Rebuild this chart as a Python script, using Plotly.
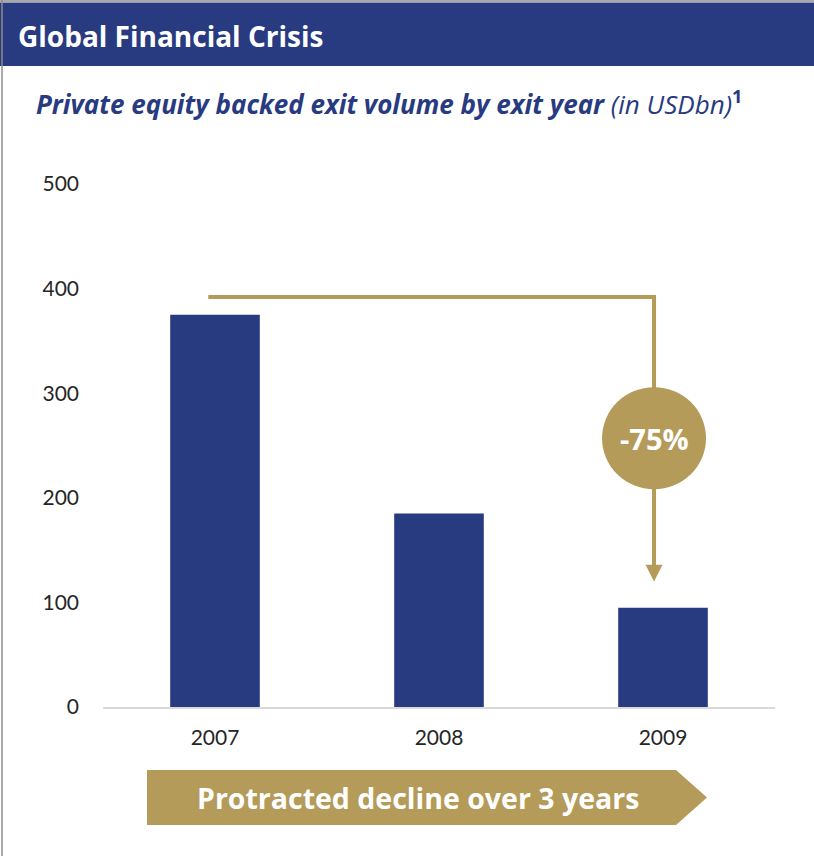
import plotly.graph_objects as go

years = ["2007", "2008", "2009"]
exit_volume = [375, 185, 95]
y_ticks = [0, 100, 200, 300, 400, 500]
title_text = "Global Financial Crisis"
subtitle_main = "Private equity backed exit volume by exit year"
subtitle_unit = "(in USDbn)"
change_label = "-75%"
banner_text = "Protracted decline over 3 years"

NAVY = "#283A80"
GOLD = "#B49B59"
FONT = "Lato"
FONT2 = "Open Sans"

W, H = 814, 856
L, R, T, B = 103, 39, 184, 149
PW, PH = W - L - R, H - T - B


def px(x):
    return (x - L) / PW


def py(y):
    return (H - B - y) / PH


fig = go.Figure()
fig.add_trace(go.Bar(
    x=list(range(len(years))), y=exit_volume,
    marker=dict(color=NAVY, line=dict(width=0)),
    width=0.4, hoverinfo="skip",
))

shapes = []
# outer border lines
shapes.append(dict(type="line", xref="paper", yref="paper", x0=px(2), x1=px(2), y0=py(0), y1=py(H),
                   line=dict(color="#8c8c8c", width=1.5)))
# header bar
shapes.append(dict(type="rect", xref="paper", yref="paper", x0=px(0), x1=px(W), y0=py(66), y1=py(2.5),
                   fillcolor=NAVY, line=dict(width=0), layer="below"))
shapes.append(dict(type="line", xref="paper", yref="paper", x0=px(0), x1=px(W), y0=py(1), y1=py(1),
                   line=dict(color="#8c8c8c", width=1.5)))

# connector line from 2007 to 2009
x_start = 0 - 0.03
x_end = 2 - 0.04
y_top = 392
y_tip = 120
shapes.append(dict(type="path", xref="x", yref="y",
                   path=f"M {x_start},{y_top} L {x_end},{y_top} L {x_end},{y_tip + 10}",
                   line=dict(color=GOLD, width=4)))
# arrow head
hw = 0.038
shapes.append(dict(type="path", xref="x", yref="y",
                   path=f"M {x_end - hw},{y_tip + 16} L {x_end + hw},{y_tip + 16} L {x_end},{y_tip} Z",
                   fillcolor=GOLD, line=dict(width=0)))
# circle
shapes.append(dict(type="circle", xref="x", yref="y", xsizemode="pixel", ysizemode="pixel",
                   xanchor=x_end, yanchor=257, x0=-52, x1=52, y0=-51, y1=51,
                   fillcolor=GOLD, line=dict(width=0)))
# banner arrow
pts = [(147, 770), (676, 770), (707, 797.5), (676, 825), (147, 825)]
path = "M " + " L ".join(f"{px(a)},{py(b)}" for a, b in pts) + " Z"
shapes.append(dict(type="path", xref="paper", yref="paper", path=path,
                   fillcolor=GOLD, line=dict(width=0)))

annotations = [
    dict(xref="paper", yref="paper", x=px(16), y=py(36), xanchor="left", yanchor="middle",
         text=f"<b>{title_text}</b>", showarrow=False,
         font=dict(family=FONT2, size=28, color="white")),
    dict(xref="paper", yref="paper", x=px(34), y=py(103), xanchor="left", yanchor="middle",
         text=f"<b><i>{subtitle_main}</i></b> <i>{subtitle_unit}</i><sup><b>1</b></sup>", showarrow=False,
         font=dict(family=FONT2, size=26, color=NAVY)),
    dict(xref="x", yref="y", x=x_end, y=257, text=f"<b>{change_label}</b>", showarrow=False,
         font=dict(family=FONT2, size=29, color="white")),
    dict(xref="paper", yref="paper", x=px(418), y=py(798), xanchor="center", yanchor="middle",
         text=f"<b>{banner_text}</b>", showarrow=False,
         font=dict(family=FONT2, size=28.5, color="white")),
]

fig.update_layout(
    width=W, height=H,
    margin=dict(l=L, r=R, t=T, b=B, pad=0),
    paper_bgcolor="white", plot_bgcolor="white",
    showlegend=False,
    bargap=0.6,
    shapes=shapes,
    annotations=annotations,
    font=dict(family=FONT, color="#262626"),
    xaxis=dict(
        range=[-0.5, 2.5], tickmode="array", tickvals=list(range(len(years))), ticktext=years,
        showgrid=False, zeroline=False, showline=True, linecolor="#D9D9D9", linewidth=1.5,
        ticks="", ticklabelstandoff=11, tickfont=dict(family=FONT, size=21, color="#262626"),
        fixedrange=True,
    ),
    yaxis=dict(
        range=[0, 500], tickmode="array", tickvals=y_ticks, ticktext=[str(v) for v in y_ticks],
        showgrid=False, zeroline=False, showline=False, ticks="",
        ticklabelstandoff=23, tickfont=dict(family=FONT, size=21, color="#262626"),
        fixedrange=True,
    ),
)

fig.write_html(
    "out.html",
    config={"displayModeBar": False},
    post_script="document.body.style.margin='0';document.body.style.overflow='hidden';",
)
